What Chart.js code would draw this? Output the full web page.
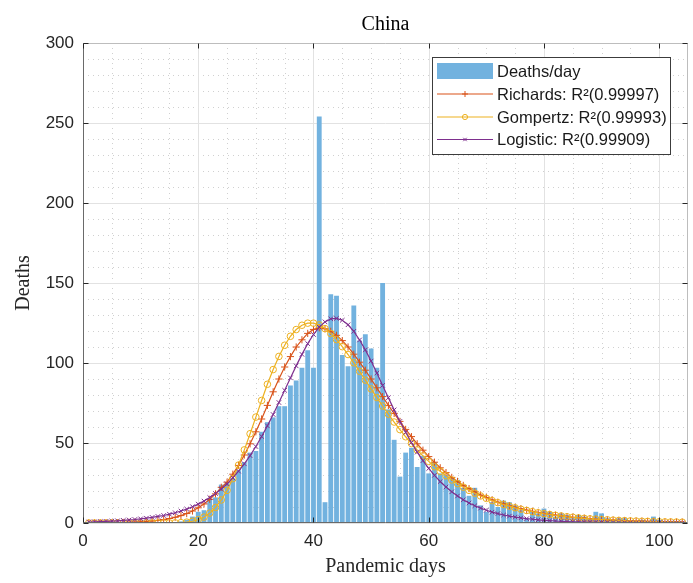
<!DOCTYPE html>
<html lang="en">
<head>
<meta charset="UTF-8">
<title>China - deaths per day and fitted models</title>
<style>
    html, body { margin: 0; padding: 0; background: #ffffff; }
    #wrap { width: 693px; height: 583px; }
</style>
</head>
<body>
<div id="wrap"><canvas id="deathsChart" width="693" height="583"></canvas></div>

<script src="https://cdn.jsdelivr.net/npm/chart.js@4.4.1/dist/chart.umd.min.js"></script>
<script>
    // pandemic day index, 1..104
    var days = Array.from({ length: 104 }, function (_, i) { return i + 1; });

    // reported deaths per day
    var deathsPerDay = [
        0, 0, 0, 0, 0, 0, 0, 0, 0, 0, 0, 0, 0, 0, 0, 0,
        1, 2, 4, 7, 8, 15, 16, 24, 25, 28, 33, 38, 44, 45,
        57, 63, 66, 73, 73, 86, 89, 97, 108, 97, 254, 13, 143, 142,
        105, 98, 136, 114, 118, 109, 97, 150, 71, 52, 29, 44, 47, 35,
        42, 31, 38, 31, 30, 28, 27, 22, 17, 22, 11, 7, 13, 10,
        14, 13, 11, 8, 3, 7, 6, 9, 7, 4, 6, 5, 3, 5,
        4, 3, 7, 6, 3, 2, 3, 3, 1, 1, 2, 1, 4, 2,
        1, 1, 1, 0
    ];

    // fitted daily deaths, one value per day
    var richardsFit = [
        0.06, 0.08, 0.1, 0.13, 0.18, 0.24, 0.32, 0.42, 0.55, 0.73,
        0.96, 1.26, 1.64, 2.14, 2.78, 3.59, 4.62, 5.9, 7.5, 9.5,
        11.9, 14.8, 18.2, 22.3, 25.5, 30.5, 36, 42.5, 49.5, 57,
        65, 73.5, 82, 90, 97.5, 104, 110, 114.5, 118.5, 121,
        122, 121.4, 119.8, 117.3, 114, 110, 105.5, 100.5, 95.5, 90,
        84.5, 79, 73.5, 68.5, 63.5, 58.5, 54, 49.5, 45.5, 41.5,
        38, 34.5, 31.5, 28.5, 26, 23.5, 21.5, 19.5, 17.5, 16,
        14.5, 13, 12, 10.8, 9.8, 8.9, 8, 7.3, 6.6, 6,
        5.4, 4.9, 4.4, 4, 3.6, 3.3, 3, 2.7, 2.4, 2.2,
        2, 1.8, 1.6, 1.45, 1.3, 1.2, 1.1, 1, 0.9, 0.8,
        0.7, 0.65, 0.6, 0.55
    ];
    var gompertzFit = [
        0, 0, 0, 0, 0, 0, 0, 0, 0, 0,
        0, 0, 0, 0.01, 0.04, 0.1, 0.24, 0.55, 1.1, 2.1,
        3.7, 6.2, 9.7, 14.4, 20.4, 27.7, 36.2, 45.7, 55.8, 66.2,
        76.6, 86.7, 95.9, 104.1, 111.1, 116.7, 120.9, 123.6, 124.9, 124.9,
        123.8, 121.5, 118.4, 114.6, 110.2, 105.3, 100.1, 94.8, 89.3, 83.8,
        78.4, 73.1, 68, 63.1, 58.4, 53.9, 49.7, 45.7, 42, 38.5,
        35.2, 32.3, 29.5, 26.9, 24.6, 22.4, 20.4, 18.6, 16.9, 15.4,
        14, 12.7, 11.5, 10.5, 9.5, 8.6, 7.8, 7.1, 6.4, 5.8,
        5.3, 4.8, 4.4, 3.9, 3.6, 3.2, 2.9, 2.6, 2.4, 2.2,
        2, 1.8, 1.6, 1.5, 1.3, 1.2, 1.1, 1, 0.9, 0.8,
        0.7, 0.65, 0.6, 0.5
    ];
    var logisticFit = [
        0.63, 0.74, 0.86, 1.01, 1.18, 1.38, 1.6, 1.9, 2.2, 2.6,
        3, 3.5, 4.1, 4.7, 5.5, 6.4, 7.5, 8.7, 10.2, 11.8,
        13.7, 15.9, 18.4, 21.3, 24.5, 28.2, 32.4, 37, 42.1, 47.8,
        54.1, 60.7, 67.8, 75.3, 82.9, 90.7, 98.2, 105.4, 112.1, 117.8,
        122.4, 125.7, 127.6, 127.9, 126.7, 123.9, 119.8, 114.4, 108.2, 101.2,
        93.7, 86, 78.3, 70.7, 63.5, 56.7, 50.3, 44.3, 39, 34.1,
        29.8, 25.9, 22.5, 19.5, 16.9, 14.5, 12.5, 10.8, 9.3, 8,
        6.8, 5.9, 5, 4.3, 3.7, 3.2, 2.7, 2.35, 2, 1.7,
        1.47, 1.25, 1.07, 0.92, 0.78, 0.67, 0.57, 0.49, 0.42, 0.36,
        0.31, 0.26, 0.22, 0.19, 0.16, 0.14, 0.12, 0.1, 0.09, 0.08,
        0.07, 0.06, 0.05, 0.04
    ];

    var xTicks = [0, 20, 40, 60, 80, 100];
    var yTicks = [0, 50, 100, 150, 200, 250, 300];

    var barColor = 'rgb(114,178,223)';
    var sansFont = '"Liberation Sans", Arial, Helvetica, sans-serif';
    var serifFont = '"Liberation Serif", "Times New Roman", serif';

    function pairs(values) {
        return days.map(function (d, i) { return { x: d, y: values[i] }; });
    }

    function strokeLine(ctx, x1, y1, x2, y2) {
        ctx.beginPath();
        ctx.moveTo(x1, y1);
        ctx.lineTo(x2, y2);
        ctx.stroke();
    }

    // grid behind the bars, box + ticks + legend + titles on top
    var plotDecor = {
        id: 'plotDecor',
        beforeDatasetsDraw: function (chart) {
            var ctx = chart.ctx, a = chart.chartArea;
            var xs = chart.scales.x, ys = chart.scales.y;
            var v, p;
            ctx.save();
            ctx.lineWidth = 1;

            // minor grid (dotted)
            ctx.strokeStyle = '#d0d0d0';
            ctx.setLineDash([1, 4]);
            for (v = 5; v < 105; v += 5) {
                if (v % 20 === 0) continue;
                p = Math.round(xs.getPixelForValue(v)) + 0.5;
                strokeLine(ctx, p, a.top, p, a.bottom);
            }
            for (v = 10; v < 300; v += 10) {
                if (v % 50 === 0) continue;
                p = Math.round(ys.getPixelForValue(v)) + 0.5;
                strokeLine(ctx, a.left, p, a.right, p);
            }

            // major grid (solid)
            ctx.setLineDash([]);
            ctx.strokeStyle = '#e2e2e2';
            xTicks.forEach(function (t) {
                p = Math.round(xs.getPixelForValue(t)) + 0.5;
                strokeLine(ctx, p, a.top, p, a.bottom);
            });
            yTicks.forEach(function (t) {
                p = Math.round(ys.getPixelForValue(t)) + 0.5;
                strokeLine(ctx, a.left, p, a.right, p);
            });
            ctx.restore();
        },
        afterDatasetsDraw: function (chart) {
            var ctx = chart.ctx, a = chart.chartArea;
            var xs = chart.scales.x, ys = chart.scales.y;
            var L = Math.round(a.left) + 0.5, R = Math.round(a.right) - 0.5;
            var T = Math.round(a.top) + 0.5, B = Math.round(a.bottom) - 0.5;
            ctx.save();
            ctx.lineWidth = 1;

            // axes box
            ctx.strokeStyle = '#bdbdbd';
            strokeLine(ctx, L, T, R, T);
            strokeLine(ctx, R, T, R, B);
            ctx.strokeStyle = '#6a6a6a';
            strokeLine(ctx, L, T, L, B);
            strokeLine(ctx, L, B, R, B);

            // inward tick marks
            ctx.strokeStyle = '#262626';
            xTicks.forEach(function (t) {
                var p = Math.round(xs.getPixelForValue(t)) + 0.5;
                strokeLine(ctx, p, B, p, B - 5);
                strokeLine(ctx, p, T, p, T + 5);
            });
            yTicks.forEach(function (t) {
                var p = Math.round(ys.getPixelForValue(t)) + 0.5;
                strokeLine(ctx, L, p, L + 5, p);
                strokeLine(ctx, R, p, R - 5, p);
            });

            // legend box in the upper right corner
            var bx = 432, by = 57, bw = 238, bh = 97;
            ctx.fillStyle = '#ffffff';
            ctx.fillRect(bx, by, bw, bh);
            ctx.strokeStyle = '#3c3c3c';
            ctx.strokeRect(bx + 0.5, by + 0.5, bw, bh);

            var rowY = [71, 94, 117, 139.5];
            var sx1 = 437, sx2 = 493, tx = 497;
            ctx.font = '16.5px ' + sansFont;
            ctx.textBaseline = 'middle';
            ctx.textAlign = 'left';

            chart.data.datasets.forEach(function (ds, i) {
                var y = rowY[i];
                if (ds.type === 'line') {
                    ctx.strokeStyle = ds.borderColor;
                    ctx.lineWidth = 1.2;
                    strokeLine(ctx, sx1, y, sx2, y);
                    ctx.lineWidth = 1;
                    ctx.strokeStyle = ds.pointBorderColor;
                    ctx.fillStyle = 'rgba(0,0,0,0)';
                    Chart.helpers.drawPoint(ctx, {
                        pointStyle: ds.pointStyle,
                        radius: ds.legendRadius,
                        rotation: 0,
                        borderWidth: 1
                    }, (sx1 + sx2) / 2, y);
                } else {
                    ctx.fillStyle = ds.backgroundColor;
                    ctx.fillRect(sx1, y - 8, sx2 - sx1, 16);
                }
                ctx.fillStyle = '#1a1a1a';
                ctx.fillText(ds.label, tx, y + 1);
            });
            ctx.restore();
        },
        afterDraw: function (chart) {
            var ctx = chart.ctx, a = chart.chartArea;
            var cx = (a.left + a.right) / 2, cy = (a.top + a.bottom) / 2;
            ctx.save();
            ctx.textAlign = 'center';
            ctx.textBaseline = 'middle';

            ctx.fillStyle = '#000000';
            ctx.font = '20px ' + serifFont;
            ctx.fillText('China', cx, 25);

            ctx.fillStyle = '#262626';
            ctx.fillText('Pandemic days', cx, 567);

            ctx.translate(24, cy);
            ctx.rotate(-Math.PI / 2);
            ctx.fillText('Deaths', 0, 0);
            ctx.restore();
        }
    };

    var ctx = document.getElementById('deathsChart').getContext('2d');
    var chart = new Chart(ctx, {
        type: 'bar',
        data: {
            datasets: [
                {
                    type: 'bar',
                    label: 'Deaths/day',
                    data: pairs(deathsPerDay),
                    backgroundColor: barColor,
                    borderWidth: 0,
                    categoryPercentage: 1,
                    barPercentage: 0.84,
                    order: 4
                },
                {
                    type: 'line',
                    label: 'Richards: R\u00b2(0.99997)',
                    data: pairs(richardsFit),
                    borderColor: '#D95319',
                    borderWidth: 1.2,
                    pointStyle: 'cross',
                    pointRadius: 3.6,
                    pointBorderColor: '#D95319',
                    pointBorderWidth: 1,
                    pointBackgroundColor: 'rgba(0,0,0,0)',
                    legendRadius: 3,
                    tension: 0,
                    order: 3
                },
                {
                    type: 'line',
                    label: 'Gompertz: R\u00b2(0.99993)',
                    data: pairs(gompertzFit),
                    borderColor: '#EDB120',
                    borderWidth: 1.2,
                    pointStyle: 'circle',
                    pointRadius: 3.3,
                    pointBorderColor: '#EDB120',
                    pointBorderWidth: 1,
                    pointBackgroundColor: 'rgba(0,0,0,0)',
                    legendRadius: 2.6,
                    tension: 0,
                    order: 2
                },
                {
                    type: 'line',
                    label: 'Logistic: R\u00b2(0.99909)',
                    data: pairs(logisticFit),
                    borderColor: '#7E2F8E',
                    borderWidth: 1.2,
                    pointStyle: 'crossRot',
                    pointRadius: 3.2,
                    pointBorderColor: '#7E2F8E',
                    pointBorderWidth: 1,
                    pointBackgroundColor: 'rgba(0,0,0,0)',
                    legendRadius: 2.4,
                    tension: 0,
                    order: 1
                }
            ]
        },
        options: {
            responsive: false,
            animation: false,
            events: [],
            layout: { padding: { top: 43, right: 5, bottom: 0, left: 0 } },
            plugins: {
                legend: { display: false },
                tooltip: { enabled: false },
                title: { display: false }
            },
            scales: {
                x: {
                    type: 'linear',
                    min: 0,
                    max: 105,
                    offset: false,
                    grid: { display: false, drawTicks: false },
                    border: { display: false },
                    ticks: {
                        stepSize: 20,
                        padding: 8,
                        color: '#262626',
                        font: { family: sansFont, size: 17 },
                        maxRotation: 0
                    },
                    afterBuildTicks: function (scale) {
                        scale.ticks = xTicks.map(function (v) { return { value: v }; });
                    },
                    afterFit: function (scale) { scale.height = 60; }
                },
                y: {
                    type: 'linear',
                    min: 0,
                    max: 300,
                    grid: { display: false, drawTicks: false },
                    border: { display: false },
                    ticks: {
                        stepSize: 50,
                        padding: 9,
                        color: '#262626',
                        font: { family: sansFont, size: 17 }
                    },
                    afterBuildTicks: function (scale) {
                        scale.ticks = yTicks.map(function (v) { return { value: v }; });
                    },
                    afterFit: function (scale) { scale.width = 83; }
                }
            }
        },
        plugins: [plotDecor]
    });
</script>
</body>
</html>
